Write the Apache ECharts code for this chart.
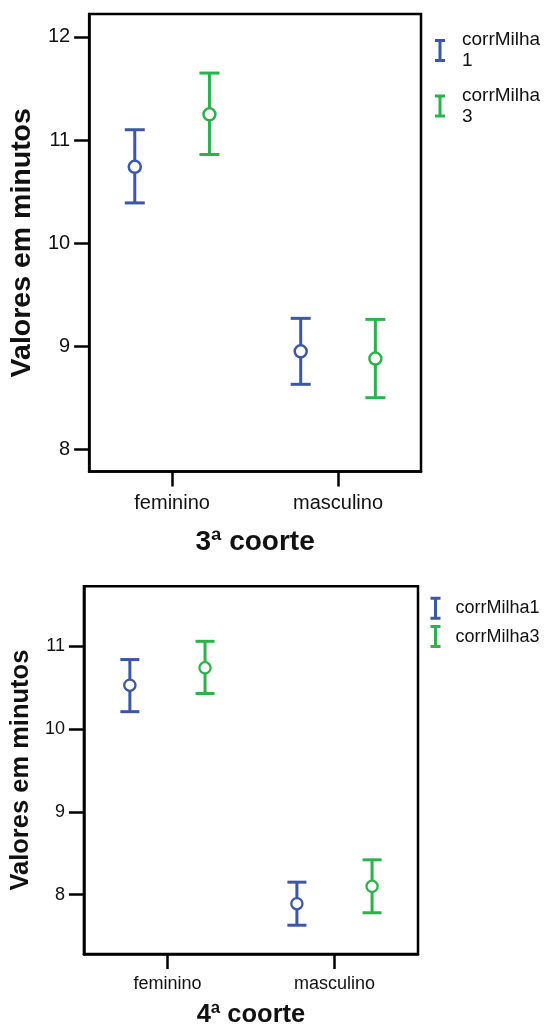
<!DOCTYPE html>
<html>
<head>
<meta charset="utf-8">
<script src="https://cdn.jsdelivr.net/npm/echarts@6/dist/echarts.min.js"></script>
<style>
  html, body { margin: 0; padding: 0; background: #fff; }
  #chart { width: 546px; height: 1029px; }
</style>
</head>
<body>
<div id="chart"></div>
<script>
// Categories and series
const categories = ['feminino', 'masculino'];
const seriesNames = ['corrMilha1', 'corrMilha3'];

// Tick values for each panel
const yTicks3 = [8, 9, 10, 11, 12];
const yTicks4 = [8, 9, 10, 11];

// 3ª coorte: mean and confidence interval bounds (minutes)
const c3Milha1Mean = [10.74, 8.95];
const c3Milha1Low  = [10.39, 8.63];
const c3Milha1High = [11.10, 9.27];
const c3Milha3Mean = [11.25, 8.88];
const c3Milha3Low  = [10.86, 8.50];
const c3Milha3High = [11.65, 9.26];

// 4ª coorte: mean and confidence interval bounds (minutes)
const c4Milha1Mean = [10.53, 7.89];
const c4Milha1Low  = [10.21, 7.63];
const c4Milha1High = [10.84, 8.15];
const c4Milha3Mean = [10.74, 8.10];
const c4Milha3Low  = [10.43, 7.78];
const c4Milha3High = [11.06, 8.42];

const BLUE = '#3c56a8';
const GREEN = '#2bb34a';
const FONT = "'Liberation Sans', Arial, Helvetica, sans-serif";
const ICON = 'path://M0,0H10V3H6.5V20H10V23H0V20H3.5V3H0Z';

function rows(mean, low, high) {
  return categories.map((c, i) => [i, mean[i], low[i], high[i]]);
}

// Error bar with an open circle at the mean, shifted left/right inside the category band
function errorBar(color, side, capHalf, radius, ringWidth) {
  return function (params, api) {
    const ci = api.value(0);
    const p = api.coord([ci, api.value(1)]);
    const band = api.size([1, 0])[0];
    const x = p[0] + side * band * 0.225;
    const yLo = api.coord([ci, api.value(2)])[1];
    const yHi = api.coord([ci, api.value(3)])[1];
    const ls = { stroke: color, lineWidth: 3 };
    return {
      type: 'group',
      children: [
        { type: 'line', shape: { x1: x, y1: yHi, x2: x, y2: yLo }, style: ls },
        { type: 'line', shape: { x1: x - capHalf, y1: yHi, x2: x + capHalf, y2: yHi }, style: ls },
        { type: 'line', shape: { x1: x - capHalf, y1: yLo, x2: x + capHalf, y2: yLo }, style: ls },
        { type: 'circle', shape: { cx: x, cy: p[1], r: radius },
          style: { fill: '#fff', stroke: color, lineWidth: ringWidth } }
      ]
    };
  };
}

function series(name, color, side, idx, data, capHalf, radius, ring) {
  return {
    type: 'custom',
    name: name,
    xAxisIndex: idx,
    yAxisIndex: idx,
    itemStyle: { color: color },
    encode: { x: 0, y: [1, 2, 3] },
    renderItem: errorBar(color, side, capHalf, radius, ring),
    data: data
  };
}

function xAxis(idx, title, labelSize, labelMargin, titleSize, titleGap) {
  return {
    type: 'category',
    gridIndex: idx,
    data: categories,
    boundaryGap: true,
    axisLine: { show: true, lineStyle: { color: '#000', width: 2.5 } },
    axisTick: { show: true, alignWithLabel: true, inside: false, length: 15,
                lineStyle: { color: '#000', width: 2.5 } },
    axisLabel: { color: '#111', fontSize: labelSize, fontFamily: FONT, margin: labelMargin },
    splitLine: { show: false },
    name: title,
    nameLocation: 'middle',
    nameGap: titleGap,
    nameTextStyle: { color: '#111', fontSize: titleSize, fontWeight: 'bold', fontFamily: FONT }
  };
}

function yAxis(idx, min, max, ticks, labelSize, titleSize, titleGap) {
  return {
    type: 'value',
    gridIndex: idx,
    min: min,
    max: max,
    axisLine: { show: true, lineStyle: { color: '#000', width: 2.5 } },
    axisTick: { show: true, inside: false, length: 15, customValues: ticks,
                lineStyle: { color: '#000', width: 2.5 } },
    axisLabel: { color: '#111', fontSize: labelSize, fontFamily: FONT, margin: 19,
                 customValues: ticks },
    splitLine: { show: false },
    name: 'Valores em minutos',
    nameLocation: 'middle',
    nameRotate: 90,
    nameGap: titleGap,
    nameTextStyle: { color: '#111', fontSize: titleSize, fontWeight: 'bold', fontFamily: FONT }
  };
}

const chart = echarts.init(document.getElementById('chart'), null, { renderer: 'canvas' });

chart.setOption({
  animation: false,
  backgroundColor: '#fff',
  grid: [
    { left: 86, top: 14, width: 335, height: 457.5,
      show: true, borderColor: '#000', borderWidth: 2.5, backgroundColor: '#fff' },
    { left: 80, top: 586.3, width: 338, height: 371.8,
      show: true, borderColor: '#000', borderWidth: 2.5, backgroundColor: '#fff' }
  ],
  legend: [
    {
      orient: 'vertical', left: 435, top: 29.5, padding: 0, itemGap: 13.5,
      itemWidth: 10, itemHeight: 23, selectedMode: false,
      data: seriesNames.map(n => ({ name: n, icon: ICON })),
      formatter: n => n.replace(/(\d+)$/, '\n$1'),
      textStyle: { color: '#111', fontSize: 19, lineHeight: 21, fontFamily: FONT,
                   padding: [0, 0, 0, 12] }
    },
    {
      orient: 'vertical', left: 430.5, top: 596.7, padding: 0, itemGap: 5.4,
      itemWidth: 10, itemHeight: 23, selectedMode: false,
      data: seriesNames.map(n => ({ name: n, icon: ICON })),
      textStyle: { color: '#111', fontSize: 18, fontFamily: FONT, padding: [0, 0, 0, 10] }
    }
  ],
  xAxis: [
    xAxis(0, '3ª coorte', 20, 22, 28, 57),
    xAxis(1, '4ª coorte', 18, 21.5, 25.5, 48)
  ],
  yAxis: [
    yAxis(0, 7.784, 12.223, yTicks3, 20, 28.5, 47),
    yAxis(1, 7.282, 11.725, yTicks4, 18, 25.5, 41.5)
  ],
  series: [
    series(seriesNames[0], BLUE, -1, 0, rows(c3Milha1Mean, c3Milha1Low, c3Milha1High), 10, 6, 2.5),
    series(seriesNames[1], GREEN, 1, 0, rows(c3Milha3Mean, c3Milha3Low, c3Milha3High), 10, 6, 2.5),
    series(seriesNames[0], BLUE, -1, 1, rows(c4Milha1Mean, c4Milha1Low, c4Milha1High), 9.5, 5.6, 2.3),
    series(seriesNames[1], GREEN, 1, 1, rows(c4Milha3Mean, c4Milha3Low, c4Milha3High), 9.5, 5.6, 2.3)
  ]
});
</script>
</body>
</html>
